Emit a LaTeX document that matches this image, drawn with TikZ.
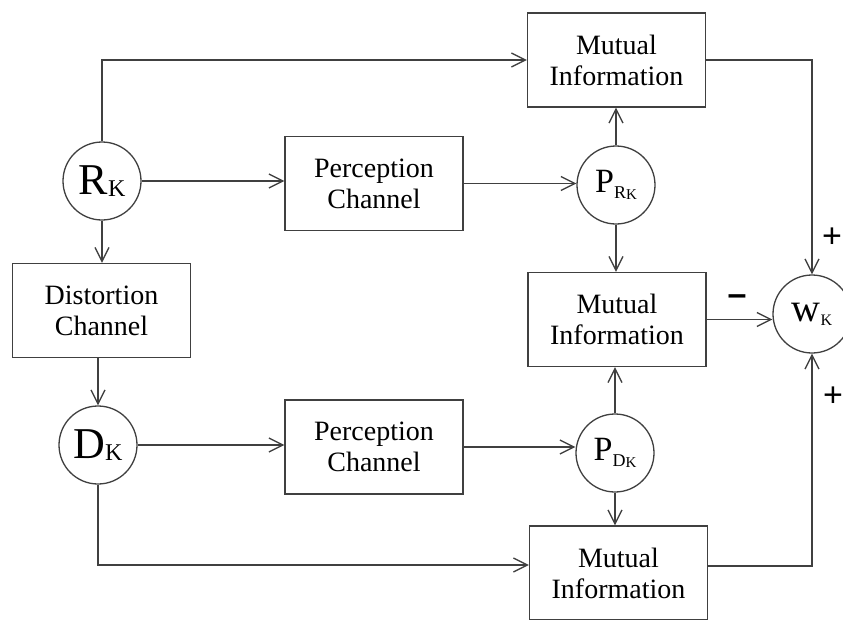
\documentclass[tikz,border=0pt]{standalone}
\usepackage{fontspec}
\setmainfont{Liberation Serif}
\newfontfamily\signfont{Liberation Sans}
\usetikzlibrary{arrows.meta}
\definecolor{linegray}{rgb}{0.25,0.25,0.25}

\begin{document}
\begin{tikzpicture}[x=1pt,y=-1pt]
        \tikzstyle{every node}=[font=\fontsize{28}{31}\selectfont]
        \tikzstyle{block}=[draw=linegray,line width=1.3pt,minimum width=178pt,minimum height=94pt,align=center,inner sep=0pt]
        \tikzstyle{var}=[draw=linegray,line width=1.3pt,circle,minimum size=78pt,inner sep=0pt]
        \tikzstyle{link}=[draw=linegray,line width=1.3pt,-{Straight Barb[length=14pt,width=14pt]}]
        \tikzstyle{sign}=[font=\signfont\fontsize{34}{34}\selectfont,inner sep=0pt]
        \useasboundingbox (0,0) rectangle (843,619);

        % signals
        \node[var] (rk) at (102,181) {{\fontsize{44}{44}\selectfont R}\raisebox{-2pt}{\fontsize{24}{24}\selectfont K}};
        \node[var] (dk) at (98,445) {{\fontsize{44}{44}\selectfont D}\raisebox{-2pt}{\fontsize{24}{24}\selectfont K}};
        \node[var] (prk) at (616,185) {{\fontsize{34}{34}\selectfont P}\raisebox{-6pt}{\fontsize{18}{18}\selectfont R\raisebox{-1pt}{\fontsize{15}{15}\selectfont K}}};
        \node[var] (pdk) at (615,453) {{\fontsize{34}{34}\selectfont P}\raisebox{-6pt}{\fontsize{18}{18}\selectfont D\raisebox{-1pt}{\fontsize{15}{15}\selectfont K}}};
        \node[var] (wk) at (812,314) {{\fontsize{40}{40}\selectfont w}\raisebox{-4pt}{\fontsize{16}{16}\selectfont K}};

        % channels
        \node[block] (perc1) at (374,183.5) {Perception\\Channel};
        \node[block] (perc2) at (374,447) {Perception\\Channel};
        \node[block] (dist) at (101.5,310.5) {Distortion\\Channel};

        % mutual information
        \node[block] (mitop) at (616.5,60) {Mutual\\Information};
        \node[block] (mimid) at (617,319.5) {Mutual\\Information};
        \node[block] (mibot) at (618.5,573) {Mutual\\Information};

        % connectors
        \draw[link] (rk.north) |- (mitop.west);
        \draw[link] (rk.east) -- (rk.east -| perc1.west);
        \draw[link] (perc1.east) -- (perc1.east -| prk.west);
        \draw[link] (prk.north) -- (prk.north |- mitop.south);
        \draw[link] (prk.south) -- (prk.south |- mimid.north);
        \draw[link] (rk.south) -- (rk.south |- dist.north);
        \draw[link] (dk.north |- dist.south) -- (dk.north);
        \draw[link] (dk.east) -- (dk.east -| perc2.west);
        \draw[link] (perc2.east) -- (perc2.east -| pdk.west);
        \draw[link] (pdk.north) -- (pdk.north |- mimid.south);
        \draw[link] (pdk.south) -- (pdk.south |- mibot.north);
        \coordinate (dkin) at ([yshift=8pt]mibot.west);
        \draw[link] (dk.south) |- (dkin);
        \draw[link] (mitop.east) -| (wk.north);
        \draw[link] (mimid.east) -- (mimid.east -| wk.west);
        \coordinate (mibotout) at ([yshift=7pt]mibot.east);
        \draw[link] (mibotout) -| (wk.south);

        % signs
        \node[sign] (plustop) at (832,238) {+};
        \node[sign] (plusbot) at (833,397) {+};
        \node[sign,font=\signfont\bfseries\fontsize{34}{34}\selectfont] (minus) at (737,300) {–};
\end{tikzpicture}
\end{document}
